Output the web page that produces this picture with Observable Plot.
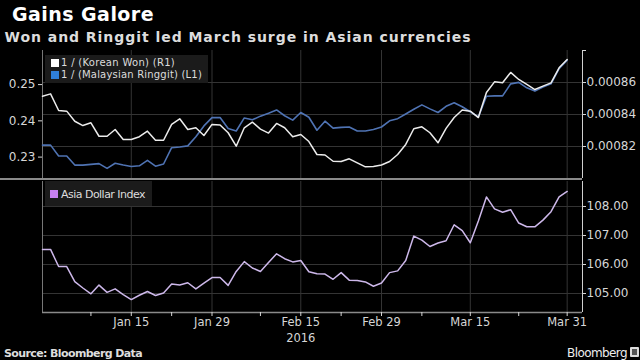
<!DOCTYPE html>
<html><head><meta charset="utf-8">
<script src="https://cdn.jsdelivr.net/npm/d3@7"></script>
<script src="https://cdn.jsdelivr.net/npm/@observablehq/plot@0.6"></script>
<style>
body{margin:0;background:#000;}
#wrap{position:relative;width:640px;height:360px;background:#000;overflow:hidden;font-family:"DejaVu Sans",sans-serif;color:#ddd;}
.abs{position:absolute;white-space:nowrap;line-height:1;}
.box{position:absolute;background:#1b1b1b;}
.sw{position:absolute;width:8px;height:8px;}
svg{overflow:visible;}
</style></head><body>
<div id="wrap">
  <div class="abs" id="title" style="left:12px;top:4.6px;font-size:19px;font-weight:700;color:#fff;">Gains Galore</div>
  <div class="abs" id="subtitle" style="left:4.5px;top:29.9px;font-size:14px;font-weight:700;color:#ddd;">Won and Ringgit led March surge in Asian currencies</div>
  <div id="topChart" style="position:absolute;left:0;top:48px;"></div>
  <div id="bottomChart" style="position:absolute;left:0;top:178px;"></div>
  <div style="position:absolute;left:0;top:177.5px;width:582px;height:2px;background:#8a8a8a;"></div>
  <div class="box" style="left:45px;top:55px;width:163px;height:28px;"></div>
  <div class="sw" style="left:51px;top:59px;background:#ffffff;"></div>
  <div class="abs" id="lg1" style="left:61px;top:58.2px;font-size:10px;color:#ddd;">1 / (Korean Won) (R1)</div>
  <div class="sw" style="left:51px;top:70.5px;background:#2f7fd8;"></div>
  <div class="abs" id="lg2" style="left:61px;top:69.8px;font-size:10px;color:#ddd;">1 / (Malaysian Ringgit) (L1)</div>
  <div class="box" style="left:45px;top:181px;width:107px;height:25px;"></div>
  <div class="sw" style="left:50px;top:190px;background:#c780f0;"></div>
  <div class="abs" id="lg3" style="left:61px;top:189px;font-size:11px;color:#ddd;">Asia Dollar Index</div>
  <div class="abs" id="source" style="left:4px;top:347.5px;font-size:11px;font-weight:700;color:#ddd;">Source: Bloomberg Data</div>
  <div class="abs" id="brand" style="left:567px;top:346.5px;font-size:12px;color:#eee;">Bloomberg</div>
  <div style="position:absolute;left:630px;top:346.5px;width:9px;height:10px;background:#ddd;border-radius:1px;"><div style="position:absolute;left:2px;top:2px;width:5px;height:6px;background:#555;"></div></div>
</div>
<script>
// ---- data (weekday closes, Dec 31 2015 .. Mar 31 2016) ----
const seriesNames = ["1 / (Korean Won) (R1)", "1 / (Malaysian Ringgit) (L1)", "Asia Dollar Index"];
const won = [0.0008514,0.0008529,0.0008425,0.0008421,0.0008358,0.0008331,0.0008348,0.0008264,0.0008264,0.0008306,
0.0008244,0.0008244,0.0008261,0.0008296,0.0008239,0.0008239,0.0008338,0.0008373,0.0008306,0.0008317,
0.0008269,0.0008338,0.0008334,0.0008286,0.0008202,0.0008317,0.0008352,0.0008309,0.0008284,0.0008344,
0.0008317,0.0008261,0.0008275,0.0008231,0.0008150,0.0008147,0.0008108,0.0008106,0.0008123,0.0008098,
0.0008073,0.0008075,0.0008084,0.0008106,0.0008150,0.0008213,0.0008311,0.0008323,0.0008286,0.0008223,
0.0008313,0.0008381,0.0008428,0.0008421,0.0008381,0.0008538,0.0008604,0.0008598,0.0008663,0.0008619,
0.0008588,0.0008556,0.0008577,0.0008598,0.0008692,0.0008744];
const ringgit = [0.2333,0.2333,0.2303,0.2303,0.2278,0.2278,0.2280,0.2282,0.2269,0.2283,
0.2278,0.2274,0.2276,0.2291,0.2275,0.2281,0.2326,0.2328,0.2331,0.2356,
0.2386,0.2409,0.2409,0.2379,0.2372,0.2408,0.2403,0.2413,0.2421,0.2430,
0.2414,0.2402,0.2423,0.2410,0.2374,0.2399,0.2380,0.2382,0.2383,0.2372,
0.2372,0.2376,0.2383,0.2400,0.2406,0.2419,0.2432,0.2444,0.2433,0.2423,
0.2440,0.2450,0.2439,0.2425,0.2411,0.2468,0.2469,0.2469,0.2502,0.2506,
0.2491,0.2482,0.2493,0.2502,0.2544,0.2567];
const asia = [106.52,106.52,105.93,105.93,105.41,105.19,104.99,105.29,105.04,105.16,
104.96,104.79,104.94,105.07,104.93,105.02,105.33,105.29,105.37,105.16,
105.36,105.55,105.55,105.28,105.76,106.10,105.88,105.76,106.07,106.37,
106.20,106.09,106.14,105.75,105.68,105.67,105.49,105.72,105.46,105.45,
105.40,105.25,105.36,105.72,105.78,106.14,106.98,106.84,106.62,106.74,
106.82,107.37,107.17,106.75,107.50,108.33,107.92,107.80,107.89,107.43,
107.30,107.30,107.53,107.82,108.33,108.52];
const xTickLabels = ["Jan 15","Jan 29","Feb 15","Feb 29","Mar 15","Mar 31"];
const xMinorLabels = ["Jan 8","Jan 22","Feb 8","Feb 22","Mar 7","Mar 23"];
const yearLabel = "2016";
const rightTicksTop = [0.00082,0.00084,0.00086,0.00088];
const leftTicksTop = [0.23,0.24,0.25];
const rightTicksBottom = [105,106,107,108];

// ---- trading-day axis ----
const dates = d3.utcDays(new Date(Date.UTC(2015,11,31)), new Date(Date.UTC(2016,3,1))).filter(d => d.getUTCDay() % 6 !== 0);
const fmt = d3.utcFormat("%b %-d");
const majorIdx = xTickLabels.map(l => dates.findIndex(d => fmt(d) === l));
const minorIdx = xMinorLabels.map(l => dates.findIndex(d => fmt(d) === l));
const xDomain = [0, 66.9];

const leftDomain = [0.2241, 0.2594];
const rightDomain = [0.0008, 0.00088];
const toR = L => rightDomain[0] + (L - leftDomain[0]) / (leftDomain[1] - leftDomain[0]) * (rightDomain[1] - rightDomain[0]);
const fromR = R => leftDomain[0] + (R - rightDomain[0]) / (rightDomain[1] - rightDomain[0]) * (leftDomain[1] - leftDomain[0]);

const gridColor = "#343434";
const styleBase = {background: "transparent", color: "#d6d6d6", fontFamily: "DejaVu Sans, sans-serif", fontSize: "12px"};

const topPlot = Plot.plot({
  width: 640, height: 132, marginLeft: 42, marginRight: 58, marginTop: 2, marginBottom: 2,
  style: styleBase,
  x: {domain: xDomain, axis: null},
  y: {domain: rightDomain},
  marks: [
    Plot.gridY(rightTicksTop.slice(0,3), {stroke: gridColor, strokeOpacity: 1}),
    Plot.gridX(majorIdx, {stroke: gridColor, strokeOpacity: 1}),
    Plot.ruleX([xDomain[0]], {stroke: "#777"}),
    Plot.ruleX([xDomain[1]], {stroke: "#d0d0d0"}),
    Plot.axisY(rightTicksTop, {anchor: "right", tickSize: 3, tickPadding: 1, tickFormat: d => d >= 0.00088 ? "" : d.toFixed(5)}),
    Plot.axisY(leftTicksTop.map(toR), {anchor: "left", tickSize: 4, tickPadding: 3, tickFormat: r => fromR(r).toFixed(2)}),
    Plot.line(ringgit, {x: (d, i) => i, y: d => toR(d), stroke: "#4f73b3", strokeWidth: 1.6}),
    Plot.line(won, {x: (d, i) => i, y: d => d, stroke: "#ececec", strokeWidth: 1.5})
  ]
});
document.getElementById("topChart").append(topPlot);

const yB = [104.345, 108.862];
const bottomPlot = Plot.plot({
  width: 640, height: 170, marginLeft: 42, marginRight: 58, marginTop: 3, marginBottom: 36,
  style: styleBase,
  x: {domain: xDomain},
  y: {domain: yB},
  marks: [
    Plot.gridY(rightTicksBottom, {stroke: gridColor, strokeOpacity: 1}),
    Plot.gridX(majorIdx, {stroke: gridColor, strokeOpacity: 1}),
    Plot.ruleX([xDomain[0]], {stroke: "#777"}),
    Plot.ruleX([xDomain[1]], {stroke: "#d0d0d0"}),
    Plot.ruleY([yB[0]], {stroke: "#8a8a8a", strokeWidth: 1.5}),
    Plot.axisY(rightTicksBottom, {anchor: "right", tickSize: 3, tickPadding: 1, tickFormat: d => d.toFixed(2)}),
    Plot.axisX(majorIdx, {anchor: "bottom", tickSize: 4, tickPadding: 1, fontSize: 11.5, tickFormat: i => fmt(dates[i])}),
    Plot.axisX(minorIdx, {anchor: "bottom", tickSize: 4, tickFormat: () => ""}),
    Plot.text([yearLabel], {x: () => majorIdx[2], y: () => yB[0], text: d => d, dy: 25.5, fill: "#d6d6d6", fontSize: 11.5}),
    Plot.line(asia, {x: (d, i) => i, y: d => d, stroke: "#cdb8ea", strokeWidth: 1.5})
  ]
});
document.getElementById("bottomChart").append(bottomPlot);

function fit(id, w) {
  const el = document.getElementById(id);
  const r = el.getBoundingClientRect().width;
  const n = el.textContent.length;
  el.style.letterSpacing = ((w - r) / n).toFixed(3) + "px";
}
fit("title", 142); fit("subtitle", 467); fit("lg1", 114); fit("lg2", 141); fit("lg3", 84); fit("source", 138); fit("brand", 60);
</script>
</body></html>
